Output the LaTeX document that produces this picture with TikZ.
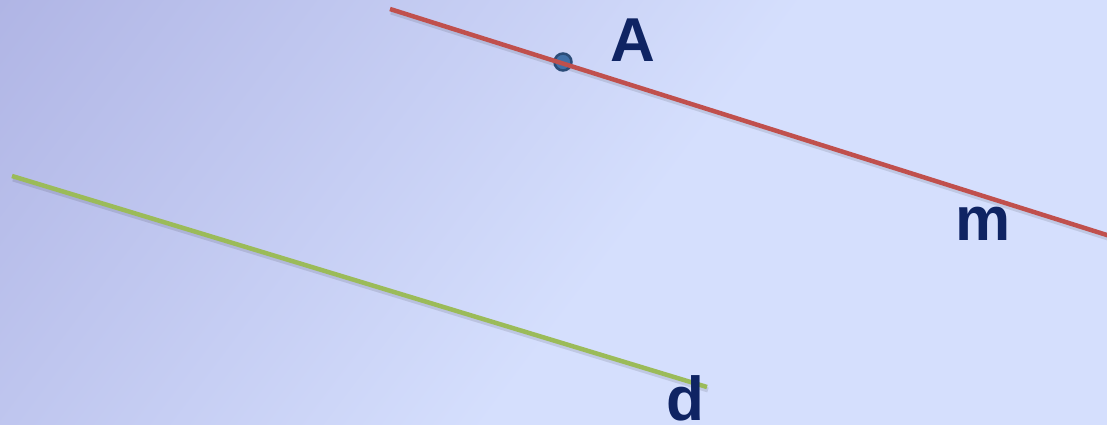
\documentclass[tikz,border=0pt]{standalone}
\usepackage{fontspec}
\setmainfont{Liberation Sans}
\definecolor{bgdark}{HTML}{B0B5E5}
\definecolor{bglight}{HTML}{D5DFFD}
\definecolor{redline}{HTML}{C0504D}
\definecolor{greenline}{HTML}{9BBB59}
\definecolor{navy}{HTML}{0F2463}
\definecolor{dotfill}{HTML}{4070A8}
\definecolor{dotring}{HTML}{2B4C78}
\pgfdeclarehorizontalshading{bgshade}{100bp}{color(0bp)=(bgdark); color(25bp)=(bgdark); color(53bp)=(bglight); color(100bp)=(bglight)}
\tikzset{
  lbl/.style={font=\bfseries\fontsize{62}{62}\selectfont, text=navy, inner sep=0pt, anchor=base},
  lineshadow/.style={line width=5pt, black, opacity=0.10, line cap=butt},
  redseg/.style={line width=4.5pt, redline},
  greenseg/.style={line width=4.5pt, greenline},
  ptdot/.style={circle, minimum size=17pt, inner sep=0pt, fill=dotfill, draw=dotring, line width=2.5pt}
}
\begin{document}
\begin{tikzpicture}[x=1pt,y=-1pt]
\useasboundingbox (0,0) rectangle (1107,424);
\begin{scope}
\clip (0,0) rectangle (1107,424);
\begin{scope}[transform canvas={rotate=-37}]
\shade[shading=bgshade] (0,-1000) rectangle (1150,1000);
\end{scope}
\end{scope}
% coordinates
\coordinate (m1) at (390,9);
\coordinate (m2) at (1110,236);
\coordinate (d1) at (12,176);
\coordinate (d2) at (707,387);
\coordinate (m1s) at (391,12);
\coordinate (m2s) at (1111,239);
\coordinate (d1s) at (13,179);
\coordinate (d2s) at (708,390);
% shadows
\draw[lineshadow] (m1s) -- (m2s);
\draw[lineshadow] (d1s) -- (d2s);
% point A
\node[ptdot] (A) at (563,62) {};
% lines
\draw[redseg] (m1) -- (m2);
\draw[greenseg] (d1) -- (d2);
% labels
\node[lbl] (lA) at (633,61) {A};
\node[lbl] (lm) at (983,240) {m};
\node[lbl] (ld) at (685,420) {d};
\end{tikzpicture}
\end{document}
